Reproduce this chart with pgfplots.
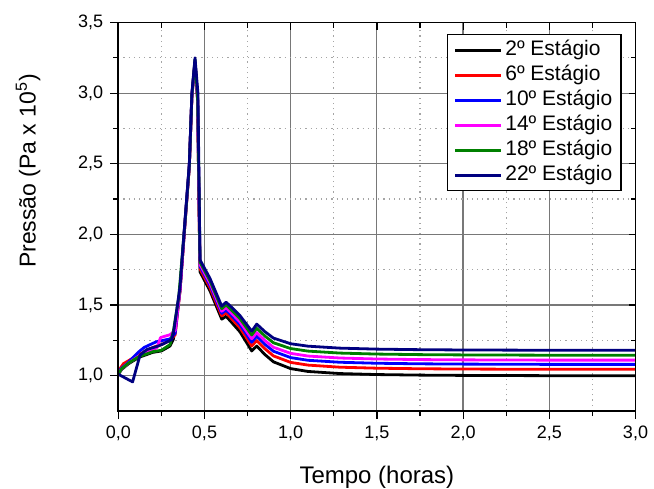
\documentclass[border=0pt]{standalone}
\usepackage{fontspec}
\setmainfont{Liberation Sans}
\usepackage{pgfplots}
\pgfplotsset{compat=1.18}
\definecolor{cgreen}{RGB}{0,128,0}
\definecolor{cnavy}{RGB}{0,0,128}
\definecolor{cmag}{RGB}{255,0,255}
\definecolor{gridmaj}{RGB}{120,120,120}
\definecolor{gridmin}{RGB}{165,165,165}

\pgfplotsset{
  frame/.style={
    scale only axis,
    width=258.6pt, height=194.25pt,
    xmin=0, xmax=3, ymin=0.75, ymax=3.5,
    xtick={0,0.5,...,3},
    ytick={1,1.5,...,3.5},
    minor x tick num=1, minor y tick num=1,
    major tick style={black, line width=0.6pt},
    minor tick style={black, line width=0.6pt},
    axis line style={line width=0.8pt},
  },
}

\begin{document}
\begin{tikzpicture}
% grid, curves, labels, legend
\begin{axis}[
    frame,
    name=main,
    grid=both,
    major grid style={draw=gridmaj, line width=0.6pt, solid},
    minor grid style={draw=gridmin, line width=0.6pt, dotted},
    major tick length=0pt, minor tick length=0pt,
    xticklabels={}, yticklabels={},
    xlabel={Tempo (horas)},
    ylabel={Pressão (Pa x 10\textsuperscript{5})},
    xlabel style={font=\fontsize{12}{14}\selectfont, at={(rel axis cs:0.5,-0.171)}, anchor=center},
    ylabel style={font=\fontsize{11.5}{13}\selectfont, at={(rel axis cs:-0.1746,0.618)}, anchor=center, rotate=0},
    legend style={at={(0.973,0.970)}, anchor=north east, draw=black, line width=0.6pt,
        font=\fontsize{10.5}{12}\selectfont, inner xsep=3pt, inner ysep=1.5pt,
        nodes={inner sep=1.35pt, text height=7.6pt, text depth=2.2pt}},
    legend cell align=left,
    legend image code/.code={\draw[#1, line width=1.4pt] (0pt,0pt) -- (23pt,0pt);},
    every axis plot/.append style={line width=1.4pt, line join=round},
]
% 2o estagio
\addplot[black] coordinates {
(0,1.01)(0.02,1.045)(0.06,1.085)(0.12,1.13)(0.2,1.165)(0.25,1.175)(0.3,1.21)
(0.32,1.26)(0.358,1.6)(0.387,2.08)(0.412,2.48)(0.427,2.98)(0.445,3.22)(0.46,2.95)(0.468,2.2)
(0.474,1.735)(0.532,1.600)(0.600,1.400)(0.625,1.420)(0.648,1.390)(0.706,1.310)(0.774,1.175)
(0.803,1.210)(0.850,1.150)(0.900,1.098)(1.000,1.050)(1.100,1.030)(1.286,1.015)(1.500,1.008)
(1.750,1.004)(2.000,1.002)(2.500,1.000)(3.000,1.000)};
\addlegendentry{2º Estágio}
% 6o estagio
\addplot[red] coordinates {
(0,1.01)(0.01,1.05)(0.03,1.085)(0.12,1.15)(0.2,1.2)(0.25,1.22)(0.3,1.25)
(0.33,1.29)(0.358,1.6)(0.387,2.08)(0.412,2.48)(0.427,2.98)(0.445,3.22)(0.46,2.95)(0.468,2.2)
(0.474,1.756)(0.532,1.622)(0.600,1.423)(0.625,1.445)(0.648,1.416)(0.706,1.339)(0.774,1.210)
(0.803,1.249)(0.850,1.191)(0.900,1.140)(1.000,1.094)(1.100,1.075)(1.286,1.060)(1.500,1.053)
(1.750,1.049)(2.000,1.047)(2.500,1.045)(3.000,1.045)};
\addlegendentry{6º Estágio}
% 10o estagio
\addplot[blue] coordinates {
(0,1.01)(0.015,1.05)(0.05,1.085)(0.12,1.17)(0.15,1.2)(0.22,1.24)(0.26,1.25)(0.3,1.26)
(0.33,1.3)(0.358,1.61)(0.387,2.09)(0.412,2.49)(0.427,2.99)(0.445,3.23)(0.46,2.96)(0.468,2.3)
(0.474,1.773)(0.532,1.639)(0.600,1.441)(0.625,1.464)(0.648,1.437)(0.706,1.361)(0.774,1.237)
(0.803,1.279)(0.850,1.222)(0.900,1.173)(1.000,1.128)(1.100,1.109)(1.286,1.095)(1.500,1.088)
(1.750,1.084)(2.000,1.082)(2.500,1.080)(3.000,1.080)};
\addlegendentry{10º Estágio}
% 14o estagio
\addplot[cmag] coordinates {
(0,1.01)(0.02,1.05)(0.06,1.09)(0.12,1.14)(0.2,1.18)(0.225,1.2)(0.245,1.27)(0.3,1.29)
(0.33,1.32)(0.358,1.61)(0.387,2.09)(0.412,2.49)(0.427,2.99)(0.445,3.23)(0.46,2.96)(0.468,2.3)
(0.474,1.787)(0.532,1.654)(0.600,1.456)(0.625,1.481)(0.648,1.454)(0.706,1.380)(0.774,1.261)
(0.803,1.305)(0.850,1.249)(0.900,1.201)(1.000,1.158)(1.100,1.139)(1.286,1.125)(1.500,1.118)
(1.750,1.114)(2.000,1.112)(2.500,1.110)(3.000,1.110)};
\addlegendentry{14º Estágio}
% 18o estagio
\addplot[cgreen] coordinates {
(0,1.01)(0.02,1.05)(0.06,1.09)(0.12,1.135)(0.2,1.17)(0.25,1.18)(0.3,1.22)
(0.32,1.32)(0.35,1.55)(0.387,2.09)(0.412,2.49)(0.427,2.99)(0.445,3.24)(0.46,2.97)(0.468,2.35)
(0.474,1.804)(0.532,1.671)(0.600,1.474)(0.625,1.501)(0.648,1.475)(0.706,1.403)(0.774,1.288)
(0.803,1.335)(0.850,1.281)(0.900,1.233)(1.000,1.192)(1.100,1.174)(1.286,1.160)(1.500,1.153)
(1.750,1.149)(2.000,1.147)(2.500,1.145)(3.000,1.145)};
\addlegendentry{18º Estágio}
% 22o estagio
\addplot[cnavy] coordinates {
(0,1.01)(0.083,0.956)(0.126,1.145)(0.165,1.185)(0.232,1.21)(0.261,1.225)(0.31,1.256)
(0.32,1.30)(0.358,1.63)(0.387,2.10)(0.412,2.5)(0.427,3.0)(0.445,3.25)(0.462,3.0)(0.468,2.4)
(0.474,1.820)(0.532,1.688)(0.600,1.492)(0.625,1.520)(0.648,1.495)(0.706,1.425)(0.774,1.315)
(0.803,1.365)(0.850,1.312)(0.900,1.266)(1.000,1.226)(1.100,1.209)(1.286,1.195)(1.500,1.188)
(1.750,1.184)(2.000,1.182)(2.500,1.180)(3.000,1.180)};
\addlegendentry{22º Estágio}
\end{axis}
% outward ticks and tick labels on bottom and left
\begin{axis}[
    frame,
    at={(main.south west)}, anchor=south west,
    xtick pos=bottom, ytick pos=left,
    tick align=outside,
    major tick length=4pt, minor tick length=2.5pt,
    xticklabel style={/pgf/number format/.cd, fixed, fixed zerofill, precision=1, use comma, assume math mode=true},
    yticklabel style={/pgf/number format/.cd, fixed, fixed zerofill, precision=1, use comma, assume math mode=true},
    tick label style={font=\fontsize{9}{10}\selectfont},
]
\end{axis}
% inward ticks on top and right
\begin{axis}[
    frame,
    at={(main.south west)}, anchor=south west,
    xtick pos=top, ytick pos=right,
    tick align=inside,
    major tick length=3.5pt, minor tick length=2.5pt,
    xticklabels={}, yticklabels={},
]
\end{axis}
\pgfresetboundingbox
\path[use as bounding box] (-59.15pt,-38.5pt) rectangle (267.85pt,205.5pt);
\end{tikzpicture}
\end{document}
